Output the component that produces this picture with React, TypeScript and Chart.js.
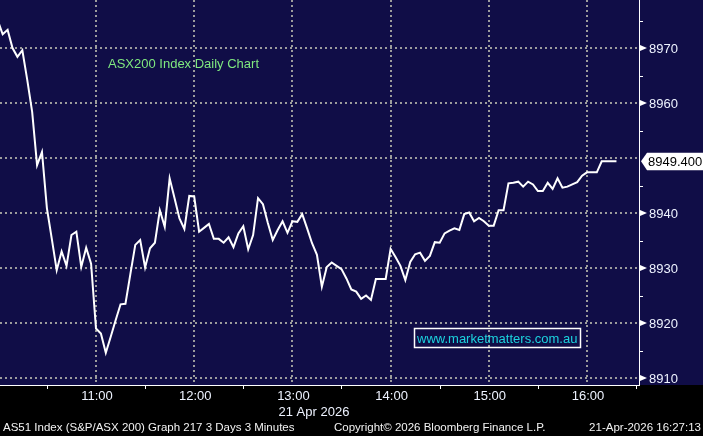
import React, { useEffect, useRef } from "react";
import { Chart, registerables } from "chart.js";

Chart.register(...registerables);

// ---- data ----
const startMinute = 600; // 10:00, first 3-minute bar
const stepMinutes = 3;
const closeValues = [
  8975.0, 8972.5, 8973.3, 8970.0, 8968.4, 8969.6, 8964.2, 8958.4, 8948.7, 8951.1,
  8940.9, 8935.3, 8929.6, 8933.0, 8930.4, 8936.0, 8936.6, 8930.2, 8933.7, 8930.8,
  8919.0, 8918.1, 8914.6, 8917.5, 8920.5, 8923.4, 8923.5, 8928.9, 8934.2, 8935.1,
  8930.1, 8933.6, 8934.6, 8940.5, 8937.5, 8946.3, 8942.7, 8939.0, 8937.1, 8943.1,
  8943.0, 8936.6, 8937.3, 8938.0, 8935.3, 8935.3, 8934.6, 8935.6, 8933.8, 8936.3,
  8937.6, 8933.4, 8936.0, 8942.7, 8941.6, 8938.2, 8935.1, 8936.9, 8938.5, 8936.4,
  8938.5, 8938.4, 8939.8, 8937.2, 8934.5, 8932.4, 8926.6, 8930.2, 8931.0, 8930.4,
  8929.8, 8928.1, 8926.1, 8925.7, 8924.4, 8925.0, 8924.2, 8928.0, 8928.0, 8928.0,
  8933.5, 8932.0, 8930.4, 8927.8, 8931.1, 8932.5, 8932.8, 8931.3, 8932.2, 8934.7,
  8934.6, 8936.3, 8936.8, 8937.2, 8936.9, 8939.8, 8940.1, 8938.5, 8939.1, 8938.5,
  8937.7, 8937.7, 8940.5, 8940.5, 8945.4, 8945.5, 8945.7, 8944.8, 8945.7, 8945.2,
  8944.0, 8944.0, 8945.5, 8944.4, 8946.3, 8944.6, 8944.8, 8945.2, 8945.6, 8946.8,
  8947.4, 8947.4, 8947.4, 8949.4, 8949.4, 8949.4, 8949.4,
];
const lastPrice = 8949.4;
const lastPriceLabel = "8949.400";

const yMajorTicks = [8910, 8920, 8930, 8940, 8950, 8960, 8970];
const yMinorTicks = [8915, 8925, 8935, 8945, 8955, 8965, 8975];
const xHourTicks = [660, 720, 780, 840, 900, 960];
const xHourLabels = ["11:00", "12:00", "13:00", "14:00", "15:00", "16:00"];
const xHalfTicks = [630, 690, 750, 810, 870, 930, 990];
const xMin = 601.35;
const xMax = 991.77;
const yMin = 8908.73;
const yMax = 8978.73;

const dateLabel = "21 Apr 2026";
const titleText = "ASX200 Index Daily Chart";
const siteText = "www.marketmatters.com.au";
const footerLeft = "AS51 Index (S&P/ASX 200) Graph 217 3 Days 3 Minutes";
const footerMid = "Copyright\u00A9 2026 Bloomberg Finance L.P.";
const footerRight = "21-Apr-2026 16:27:13";

// ---- styles ----
const NAVY = "#100d47";
const GRID = "#9c9c9c";
const AXIS = "#ffffff";
const LABEL = "#eef3ff";
const FONT = "'Liberation Sans', Arial, sans-serif";

const bbgPlugin = {
  id: "bbg",
  beforeDraw(chart: any) {
    const { ctx, width, height, chartArea, scales } = chart;
    ctx.save();
    ctx.fillStyle = "#000000";
    ctx.fillRect(0, 0, width, height);
    ctx.fillStyle = NAVY;
    ctx.fillRect(0, 0, width, chartArea.bottom);

    ctx.strokeStyle = GRID;
    ctx.lineWidth = 2;
    ctx.setLineDash([2, 3]);
    for (const v of yMajorTicks) {
      const y = Math.round(scales.y.getPixelForValue(v));
      ctx.beginPath();
      ctx.moveTo(chartArea.left, y);
      ctx.lineTo(chartArea.right, y);
      ctx.stroke();
    }
    for (const t of xHourTicks) {
      const x = Math.round(scales.x.getPixelForValue(t));
      ctx.beginPath();
      ctx.moveTo(x, chartArea.top);
      ctx.lineTo(x, chartArea.bottom);
      ctx.stroke();
    }
    ctx.restore();
  },
  afterDatasetsDraw(chart: any) {
    const { ctx, width, chartArea, scales } = chart;
    const right = chartArea.right;
    const bottom = chartArea.bottom;
    ctx.save();
    ctx.setLineDash([]);
    ctx.strokeStyle = AXIS;
    ctx.fillStyle = AXIS;
    ctx.lineWidth = 1;
    // axes lines
    ctx.beginPath();
    ctx.moveTo(right + 0.5, 0);
    ctx.lineTo(right + 0.5, bottom + 1);
    ctx.moveTo(chartArea.left, bottom + 0.5);
    ctx.lineTo(right + 1, bottom + 0.5);
    ctx.stroke();

    // minor y ticks
    ctx.beginPath();
    for (const v of yMinorTicks) {
      const y = Math.round(scales.y.getPixelForValue(v)) + 0.5;
      ctx.moveTo(right, y);
      ctx.lineTo(right + 4, y);
    }
    ctx.stroke();

    // half-hour x ticks
    ctx.beginPath();
    for (const t of xHalfTicks) {
      const x = Math.round(scales.x.getPixelForValue(t)) + 0.5;
      ctx.moveTo(x, bottom);
      ctx.lineTo(x, bottom + 4);
    }
    ctx.stroke();

    const lastY = scales.y.getPixelForValue(lastPrice);

    // major y ticks: arrows + labels
    ctx.font = `13px ${FONT}`;
    ctx.textBaseline = "middle";
    ctx.textAlign = "left";
    for (const v of yMajorTicks) {
      const y = Math.round(scales.y.getPixelForValue(v));
      if (Math.abs(y - lastY) < 12) continue;
      ctx.fillStyle = AXIS;
      ctx.beginPath();
      ctx.moveTo(right + 1, y - 3);
      ctx.lineTo(right + 8, y);
      ctx.lineTo(right + 1, y + 3);
      ctx.closePath();
      ctx.fill();
      ctx.fillStyle = LABEL;
      ctx.fillText(String(v), right + 10, y + 1);
    }

    // last price tag
    ctx.fillStyle = "#ffffff";
    ctx.beginPath();
    ctx.moveTo(right + 2, lastY);
    ctx.lineTo(right + 8, lastY - 8.5);
    ctx.lineTo(width, lastY - 8.5);
    ctx.lineTo(width, lastY + 9);
    ctx.lineTo(right + 8, lastY + 9);
    ctx.closePath();
    ctx.fill();
    ctx.fillStyle = "#000000";
    ctx.fillText(lastPriceLabel, right + 9, lastY + 1);

    // x labels
    ctx.fillStyle = LABEL;
    ctx.textAlign = "center";
    xHourTicks.forEach((t, i) => {
      const x = scales.x.getPixelForValue(t);
      ctx.fillText(xHourLabels[i], x + 1, bottom + 11);
    });
    const midX = (scales.x.getPixelForValue(780) + scales.x.getPixelForValue(810)) / 2;
    ctx.fillText(dateLabel, midX - 3, bottom + 27);

    // footer
    ctx.font = `11.5px ${FONT}`;
    ctx.fillStyle = "#f2f2f2";
    ctx.textAlign = "left";
    ctx.fillText(footerLeft, 3, bottom + 43);
    ctx.fillText(footerMid, 334, bottom + 43);
    ctx.textAlign = "right";
    ctx.fillText(footerRight, width - 2, bottom + 43);

    // annotations
    ctx.font = `13px ${FONT}`;
    ctx.textAlign = "left";
    ctx.fillStyle = "#7fe87f";
    ctx.fillText(titleText, 108, 64);

    ctx.strokeStyle = "#ffffff";
    ctx.lineWidth = 1.5;
    ctx.strokeRect(414.5, 328.5, 166, 19);
    ctx.fillStyle = "#1cd2de";
    ctx.fillText(siteText, 417, 339);
    ctx.restore();
  },
};

export default function App() {
  const canvasRef = useRef<HTMLCanvasElement | null>(null);

  useEffect(() => {
    document.body.style.margin = "0";
    document.body.style.background = "#000";
    const canvas = canvasRef.current;
    if (!canvas) return;
    const data = closeValues.map((v, i) => ({ x: startMinute + i * stepMinutes, y: v }));
    const chart = new Chart(canvas, {
      type: "line",
      data: {
        datasets: [
          {
            data,
            borderColor: "#ffffff",
            borderWidth: 2,
            pointRadius: 0,
            tension: 0,
            fill: false,
          },
        ],
      },
      options: {
        animation: false,
        responsive: false,
        devicePixelRatio: 1,
        layout: { padding: { left: 0, top: 0, right: 64, bottom: 51 } },
        plugins: { legend: { display: false }, tooltip: { enabled: false } },
        scales: {
          x: { type: "linear", display: false, min: xMin, max: xMax },
          y: { type: "linear", display: false, min: yMin, max: yMax },
        },
      },
      plugins: [bbgPlugin],
    });
    return () => chart.destroy();
  }, []);

  return (
    <div style={{ position: "fixed", left: 0, top: 0, width: 703, height: 436, background: "#000" }}>
      <canvas ref={canvasRef} width={703} height={436} style={{ display: "block" }} />
    </div>
  );
}
